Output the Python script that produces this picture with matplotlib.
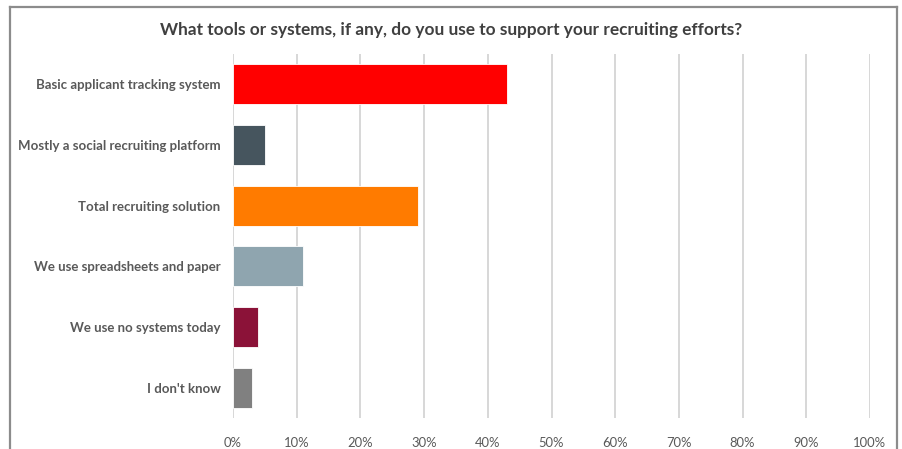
import matplotlib.pyplot as plt
from matplotlib.lines import Line2D
from matplotlib.ticker import PercentFormatter

categories = [
    "Basic applicant tracking system",
    "Mostly a social recruiting platform",
    "Total recruiting solution",
    "We use spreadsheets and paper",
    "We use no systems today",
    "I don't know",
]
values = [43, 5, 29, 11, 4, 3]
colors = ["#FF0000", "#46555E", "#FF7B00", "#8FA5AF", "#8B1238", "#808080"]
xticks = list(range(0, 101, 10))

plt.rcParams["font.family"] = ["Lato", "DejaVu Sans"]

W, H = 903, 449
fig = plt.figure(figsize=(W / 100, H / 100), dpi=100)
ax = fig.add_axes([233 / W, (H - 418) / H, (870 - 233) / W, (418 - 54) / H])

y = list(range(len(categories)))
ax.barh(y, values, height=0.66, color=colors, edgecolor="white", linewidth=0.6, zorder=3)
ax.set_ylim(len(categories) - 0.5, -0.5)
ax.set_xlim(0, 100)
ax.set_xticks(xticks)
ax.xaxis.set_major_formatter(PercentFormatter(decimals=0))
ax.set_yticks(y)
ax.set_yticklabels(categories, fontweight="bold", fontsize=9.5, color="#595959")
ax.tick_params(axis="x", length=0, pad=14, labelsize=9.4, labelcolor="#595959")
ax.tick_params(axis="y", length=0, pad=9)
ax.grid(axis="x", color="#D4D4D4", linewidth=1.3, zorder=0)
for s in ax.spines.values():
    s.set_visible(False)

fig.text(0.5, 1 - 30 / H, "What tools or systems, if any, do you use to support your recruiting efforts?",
         ha="center", va="center", fontsize=12.4, fontweight="bold", color="#404040")

# outer frame (bottom edge is cut off)
frame = dict(color="#8C8C8C", linewidth=1.6)
fig.add_artist(Line2D([10.5 / W, 10.5 / W], [0, 1 - 7 / H], **frame))
fig.add_artist(Line2D([10.5 / W, 897.5 / W], [1 - 7 / H, 1 - 7 / H], **frame))
fig.add_artist(Line2D([897.5 / W, 897.5 / W], [0, 1 - 7 / H], **frame))

fig.savefig("out.png", dpi=100)
